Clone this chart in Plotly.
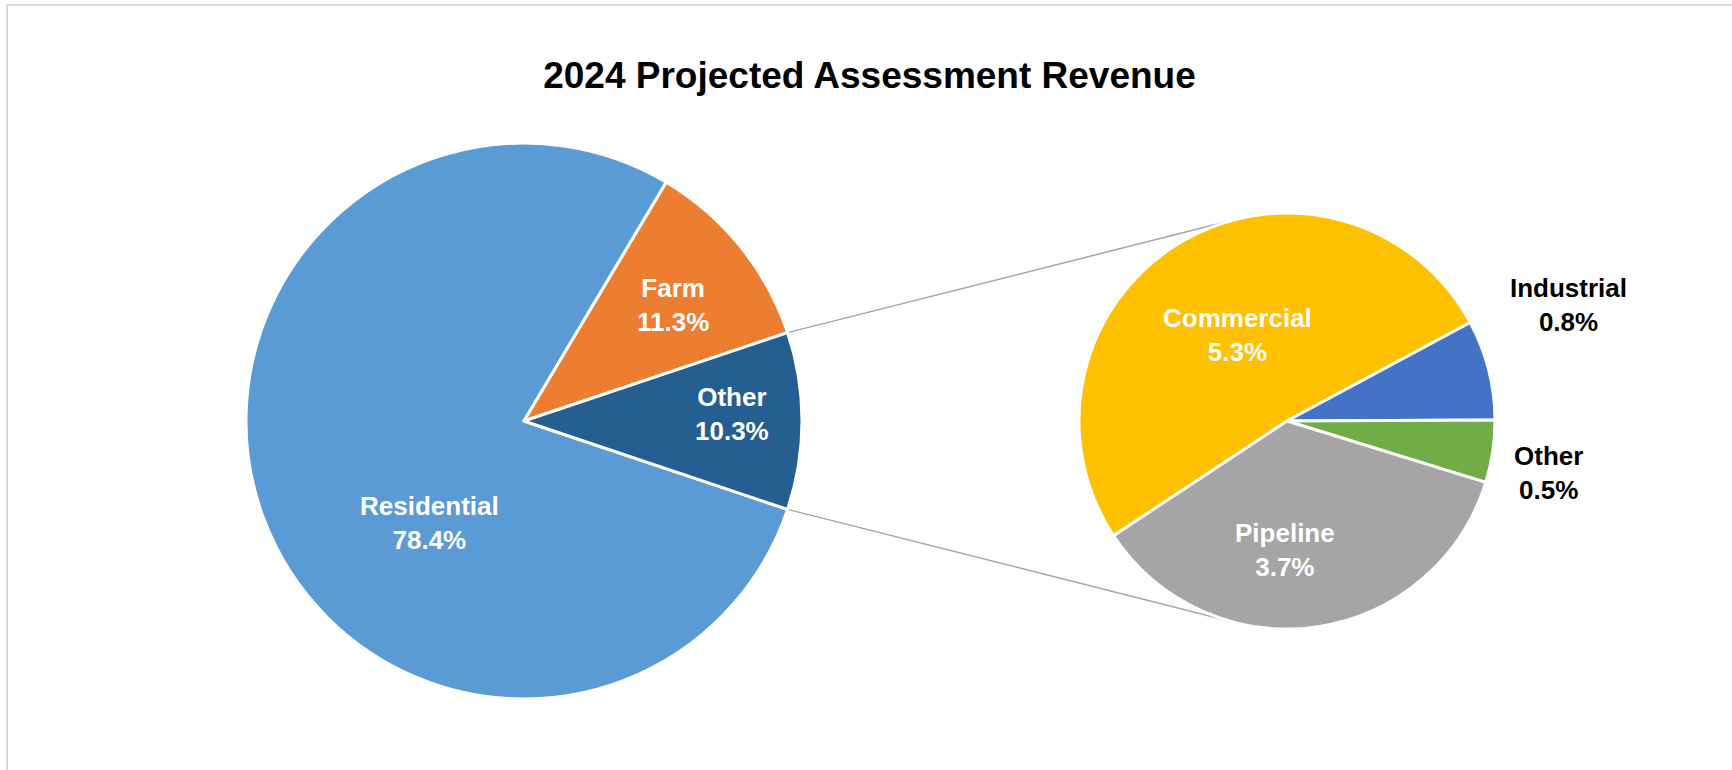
import math
import plotly.graph_objects as go

# ---- data ----
main_labels = ["Residential", "Farm", "Other"]
main_values = [78.4, 11.3, 10.3]
sub_labels = ["Commercial", "Industrial", "Other", "Pipeline"]
sub_values = [5.3, 0.8, 0.5, 3.7]
title_text = "2024 Projected Assessment Revenue"

# ---- styles / geometry ----
W, H = 1732, 770
FONT = "Liberation Sans, Arial, sans-serif"
main_colors = ["#5B9BD5", "#ED7D31", "#255E91"]
sub_colors = ["#FFC000", "#4472C4", "#70AD47", "#A5A5A5"]
MAIN_C, MAIN_R = (524, 421), 278
SUB_C, SUB_R = (1287, 421), 208
SUB_START_MATH = 213.5  # math angle where the first secondary slice starts

# label placement: (radius fraction, math angle deg, colour)
main_lbl = [(0.50, 227.4, "white"), (0.68, 37.9, "white"), (0.75, 1.9, "white")]
sub_lbl = [(0.48, 120.0, "white"), (1.466, 22.4, "black"), (1.284, -11.3, "black"), (0.62, -91.0, "white")]


def domain(c, r):
    cx, cy = c
    return dict(x=[(cx - r) / W, (cx + r) / W], y=[(H - cy - r) / H, (H - cy + r) / H])


def to_paper(px, py):
    return px / W, 1 - py / H


main_total = sum(main_values)
other_half = main_values[-1] / main_total * 360 / 2
main_rotation = 90 + other_half
sub_rotation = 90 - SUB_START_MATH

fig = go.Figure()
fig.add_trace(go.Pie(
    labels=main_labels, values=main_values, sort=False, direction="clockwise",
    rotation=main_rotation, textinfo="none", hoverinfo="label+percent",
    marker=dict(colors=main_colors, line=dict(color="white", width=3)),
    domain=domain(MAIN_C, MAIN_R), showlegend=False,
))
fig.add_trace(go.Pie(
    labels=sub_labels, values=sub_values, sort=False, direction="clockwise",
    rotation=sub_rotation, textinfo="none", hoverinfo="label+value",
    marker=dict(colors=sub_colors, line=dict(color="white", width=3)),
    domain=domain(SUB_C, SUB_R), showlegend=False,
))

annotations = []
for lab, val, (rf, ang, col) in zip(main_labels, main_values, main_lbl):
    px = MAIN_C[0] + rf * MAIN_R * math.cos(math.radians(ang))
    py = MAIN_C[1] - rf * MAIN_R * math.sin(math.radians(ang))
    x, y = to_paper(px, py)
    annotations.append(dict(x=x, y=y, xref="paper", yref="paper", showarrow=False,
                            text=f"<b>{lab}<br>{val:.1f}%</b>", xanchor="center", yanchor="middle",
                            font=dict(family=FONT, size=26, color=col)))
for lab, val, (rf, ang, col) in zip(sub_labels, sub_values, sub_lbl):
    px = SUB_C[0] + rf * SUB_R * math.cos(math.radians(ang))
    py = SUB_C[1] - rf * SUB_R * math.sin(math.radians(ang))
    x, y = to_paper(px, py)
    annotations.append(dict(x=x, y=y, xref="paper", yref="paper", showarrow=False,
                            text=f"<b>{lab}<br>{val:.1f}%</b>", xanchor="center", yanchor="middle",
                            font=dict(family=FONT, size=26, color=col)))

# connector lines: from the main pie's "Other" slice edges to tangent points on the secondary pie
shapes = []
for sign in (1, -1):
    a = math.radians(sign * other_half)
    Px = MAIN_C[0] + MAIN_R * math.cos(a)
    Py = MAIN_C[1] - MAIN_R * math.sin(a)
    dx, dy = Px - SUB_C[0], Py - SUB_C[1]
    d = math.hypot(dx, dy)
    phi = math.atan2(dy, dx)
    t = phi + sign * math.acos(SUB_R / d)
    Tx = SUB_C[0] + SUB_R * math.cos(t)
    Ty = SUB_C[1] + SUB_R * math.sin(t)
    x0, y0 = to_paper(Px, Py)
    x1, y1 = to_paper(Tx, Ty)
    shapes.append(dict(type="line", xref="paper", yref="paper", x0=x0, y0=y0, x1=x1, y1=y1,
                       line=dict(color="#A6A6A6", width=1.5), layer="below"))

# chart border (left/top visible)
shapes.append(dict(type="rect", xref="paper", yref="paper", x0=7 / W, y0=-0.05, x1=1.05, y1=1 - 5 / H,
                   line=dict(color="#D9D9D9", width=2), layer="below"))

fig.update_layout(
    width=W, height=H, margin=dict(l=0, r=0, t=0, b=0),
    paper_bgcolor="white", plot_bgcolor="white",
    title=dict(text=f"<b>{title_text}</b>", x=869.5 / W, xanchor="center",
               y=1 - 75.5 / H, yanchor="middle", yref="container",
               font=dict(family=FONT, size=37, color="black")),
    annotations=annotations, shapes=shapes,
)

fig.write_html("out.html", config={"displayModeBar": False},
               post_script="document.body.style.margin='0';document.body.style.overflow='hidden';")
